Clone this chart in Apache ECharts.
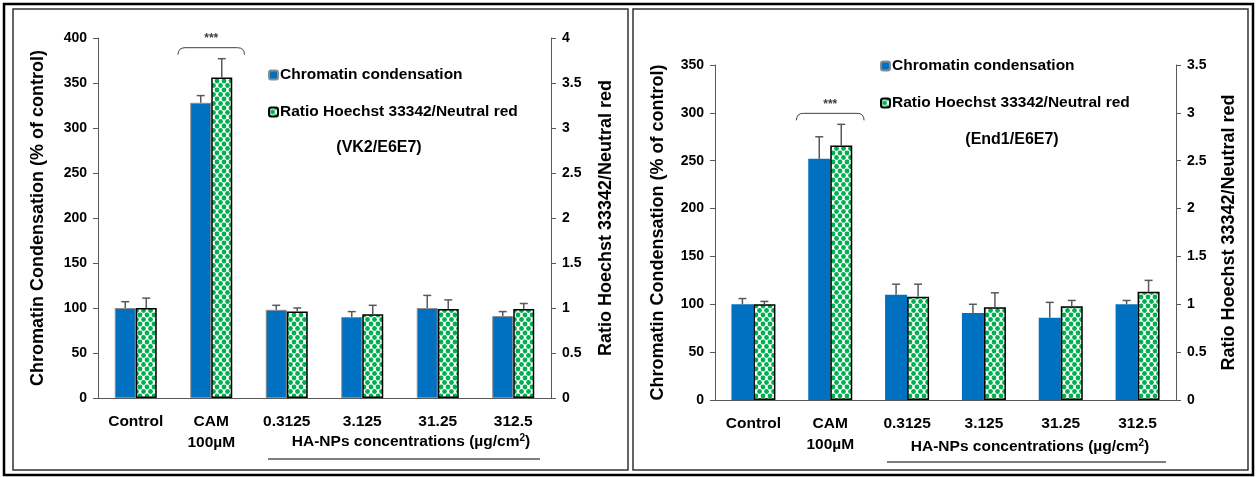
<!DOCTYPE html>
<html>
<head>
<meta charset="utf-8">
<script src="https://cdn.jsdelivr.net/npm/echarts@6/dist/echarts.min.js"></script>
<style>
  html, body { margin: 0; padding: 0; background: #fff; }
  #chart { width: 1257px; height: 477px; }
</style>
</head>
<body>
<div id="chart"></div>
<script>
// Treatment groups on the x axis
const categories = ['Control', 'CAM\n100µM', '0.3125', '3.125', '31.25', '312.5'];

// VK2/E6E7 cells
const vk2Chromatin = [100, 328, 98, 90, 100, 91];          // % of control
const vk2ChromatinErr = [7, 8, 5, 6, 14, 5];
const vk2Ratio = [1.00, 3.56, 0.96, 0.93, 0.99, 0.99];      // Hoechst 33342 / Neutral red
const vk2RatioErr = [0.11, 0.21, 0.04, 0.10, 0.10, 0.06];

// End1/E6E7 cells
const end1Chromatin = [100, 252, 110, 91, 86, 100];
const end1ChromatinErr = [6, 23, 11, 9, 16, 4];
const end1Ratio = [1.00, 2.66, 1.08, 0.97, 0.98, 1.13];
const end1RatioErr = [0.03, 0.22, 0.13, 0.15, 0.06, 0.12];

// Axis ranges
const vk2LeftMax = 400, vk2RightMax = 4;
const end1LeftMax = 350, end1RightMax = 3.5;

const SERIES_A = 'Chromatin condensation';
const SERIES_B = 'Ratio Hoechst 33342/Neutral red';
const SIGNIF = '***';

const SANS = "'Liberation Sans', Arial, sans-serif";
const BLUE = '#0070C0';
const GREEN = '#00B050';
const AXIS_GREY = '#595959';

// Green dot fill for the ratio bars
function makeDotPattern() {
  const c = document.createElement('canvas');
  c.width = 7; c.height = 9;
  const g = c.getContext('2d');
  g.fillStyle = '#ffffff';
  g.fillRect(0, 0, 7, 9);
  g.fillStyle = GREEN;
  const pts = [[0, 0], [7, 0], [0, 9], [7, 9], [3.5, 4.5]];
  pts.forEach(([x, y]) => {
    g.beginPath();
    g.arc(x, y, 2.4, 0, Math.PI * 2);
    g.fill();
  });
  return { image: c, repeat: 'repeat' };
}
const dotPattern = makeDotPattern();

function errorSeries(xi, yi, values, errs, side, barW) {
  return {
    type: 'custom',
    xAxisIndex: xi,
    yAxisIndex: yi,
    silent: true,
    z: 5,
    data: values.map((v, i) => [i, v, v + errs[i]]),
    encode: { x: 0, y: [1, 2] },
    renderItem(params, api) {
      const base = api.coord([api.value(0), api.value(1)]);
      const top = api.coord([api.value(0), api.value(2)]);
      const x = base[0] + side * barW / 2;
      const st = { stroke: AXIS_GREY, lineWidth: 1.5 };
      return {
        type: 'group',
        children: [
          { type: 'line', shape: { x1: x, y1: base[1], x2: x, y2: top[1] }, style: st },
          { type: 'line', shape: { x1: x - 4, y1: top[1], x2: x + 4, y2: top[1] }, style: st }
        ]
      };
    }
  };
}

// Significance bracket over the CAM pair; height follows the taller error bar
function bracketSeries(xi, yi, idx, chromTop, ratioTop, scale, catW) {
  return {
    type: 'custom',
    xAxisIndex: xi,
    yAxisIndex: yi,
    silent: true,
    z: 6,
    data: [[idx, Math.max(chromTop, ratioTop * scale)]],
    encode: { x: 0, y: 1 },
    renderItem(params, api) {
      const p = api.coord([api.value(0), api.value(1)]);
      const half = catW * 0.44;
      const y = p[1] - 11;
      const x0 = p[0] - half, x1 = p[0] + half;
      return {
        type: 'group',
        children: [
          {
            type: 'path',
            shape: {
              pathData: `M${x0},${y + 7} Q${x0},${y} ${x0 + 7},${y} L${x1 - 7},${y} Q${x1},${y} ${x1},${y + 7}`
            },
            style: { stroke: '#404040', lineWidth: 1, fill: null }
          },
          {
            type: 'text',
            style: {
              text: SIGNIF, x: p[0], y: y - 3,
              align: 'center', verticalAlign: 'bottom',
              font: 'bold 12px ' + SANS, fill: '#404040'
            }
          }
        ]
      };
    }
  };
}

function valueAxis(gi, max, interval, name, gap, position) {
  return {
    type: 'value',
    gridIndex: gi,
    position: position,
    min: 0,
    max: max,
    interval: interval,
    name: name,
    nameLocation: 'middle',
    nameRotate: 90,
    nameGap: gap,
    nameTextStyle: { fontFamily: SANS, fontWeight: 'bold', fontSize: 18, color: '#000' },
    axisLine: { show: true, lineStyle: { color: AXIS_GREY, width: 1 } },
    axisTick: { show: true, inside: false, length: 5, lineStyle: { color: AXIS_GREY } },
    splitLine: { show: false },
    axisLabel: { fontFamily: SANS, fontWeight: 'bold', fontSize: 14, color: '#000', margin: 11 }
  };
}

function catAxis(gi) {
  return {
    type: 'category',
    gridIndex: gi,
    data: categories,
    axisLine: { lineStyle: { color: AXIS_GREY, width: 1 } },
    axisTick: { show: false },
    axisLabel: {
      fontFamily: SANS, fontWeight: 'bold', fontSize: 15.5, color: '#000',
      lineHeight: 21, margin: 13, interval: 0
    }
  };
}

function legend(left, top) {
  return {
    orient: 'vertical',
    left: left,
    top: top,
    itemWidth: 9,
    itemHeight: 9,
    itemGap: 17,
    selectedMode: false,
    textStyle: { fontFamily: SANS, fontWeight: 'bold', fontSize: 15.5, lineHeight: 20, color: '#000', padding: [0, 0, 0, -3] },
    data: [SERIES_A, SERIES_B]
  };
}

const grids = [
  { left: 98, top: 38, width: 453, height: 360 },
  { left: 715, top: 65, width: 461, height: 335 }
];
const barW = [21, 22];

const captionStyle = (text) => ({
  text: text,
  font: 'bold 15.5px ' + SANS, fill: '#000', align: 'center', verticalAlign: 'middle',
  rich: { sup: { font: 'bold 10px ' + SANS, fill: '#000', verticalAlign: 'top', padding: [0, 0, 8, 0] } }
});
const CAPTION = 'HA-NPs concentrations (µg/cm{sup|2})';

const option = {
  animation: false,
  backgroundColor: '#fff',
  grid: grids,
  legend: [legend(263, 60), legend(875, 51)],
  xAxis: [catAxis(0), catAxis(1)],
  yAxis: [
    valueAxis(0, vk2LeftMax, 50, 'Chromatin Condensation (% of control)', 51, 'left'),
    valueAxis(0, vk2RightMax, 0.5, 'Ratio Hoechst 33342/Neutral red', 46, 'right'),
    valueAxis(1, end1LeftMax, 50, 'Chromatin Condensation (% of control)', 48, 'left'),
    valueAxis(1, end1RightMax, 0.5, 'Ratio Hoechst 33342/Neutral red', 44, 'right')
  ],
  series: [
    {
      name: SERIES_A, type: 'bar', xAxisIndex: 0, yAxisIndex: 0,
      data: vk2Chromatin, barWidth: barW[0], barGap: '0%',
      itemStyle: { color: BLUE, borderColor: '#8c8c8c', borderWidth: 1 }
    },
    {
      name: SERIES_B, type: 'bar', xAxisIndex: 0, yAxisIndex: 1,
      data: vk2Ratio, barWidth: barW[0], barGap: '0%',
      itemStyle: { color: dotPattern, borderColor: '#000', borderWidth: 1.5 }
    },
    {
      name: SERIES_A, type: 'bar', xAxisIndex: 1, yAxisIndex: 2,
      data: end1Chromatin, barWidth: barW[1], barGap: '0%',
      itemStyle: { color: BLUE }
    },
    {
      name: SERIES_B, type: 'bar', xAxisIndex: 1, yAxisIndex: 3,
      data: end1Ratio, barWidth: barW[1], barGap: '0%',
      itemStyle: { color: dotPattern, borderColor: '#000', borderWidth: 1.5 }
    },
    errorSeries(0, 0, vk2Chromatin, vk2ChromatinErr, -1, barW[0]),
    errorSeries(0, 1, vk2Ratio, vk2RatioErr, 1, barW[0]),
    errorSeries(1, 2, end1Chromatin, end1ChromatinErr, -1, barW[1]),
    errorSeries(1, 3, end1Ratio, end1RatioErr, 1, barW[1]),
    bracketSeries(0, 0, 1,
      vk2Chromatin[1] + vk2ChromatinErr[1], vk2Ratio[1] + vk2RatioErr[1],
      vk2LeftMax / vk2RightMax, grids[0].width / categories.length),
    bracketSeries(1, 2, 1,
      end1Chromatin[1] + end1ChromatinErr[1], end1Ratio[1] + end1RatioErr[1],
      end1LeftMax / end1RightMax, grids[1].width / categories.length)
  ],
  graphic: [
    // outer frame and the two panel frames
    { type: 'rect', shape: { x: 4, y: 4, width: 1249, height: 471 }, style: { fill: null, stroke: '#000', lineWidth: 2.5 }, silent: true },
    { type: 'rect', shape: { x: 13, y: 9, width: 615, height: 461 }, style: { fill: null, stroke: '#333', lineWidth: 1.5 }, silent: true },
    { type: 'rect', shape: { x: 633, y: 9, width: 615, height: 461 }, style: { fill: null, stroke: '#333', lineWidth: 1.5 }, silent: true },
    // cell line labels
    { type: 'text', x: 379, y: 148, style: { text: '(VK2/E6E7)', font: 'bold 16px ' + SANS, fill: '#000', align: 'center', verticalAlign: 'middle' } },
    { type: 'text', x: 1012, y: 140, style: { text: '(End1/E6E7)', font: 'bold 16px ' + SANS, fill: '#000', align: 'center', verticalAlign: 'middle' } },
    // concentration group captions with underline
    { type: 'text', x: 411, y: 442, style: captionStyle(CAPTION) },
    { type: 'line', shape: { x1: 268, y1: 459, x2: 540, y2: 459 }, style: { stroke: '#000', lineWidth: 1 } },
    { type: 'text', x: 1030, y: 447, style: captionStyle(CAPTION) },
    { type: 'line', shape: { x1: 887, y1: 462, x2: 1166, y2: 462 }, style: { stroke: '#000', lineWidth: 1 } }
  ]
};

const chart = echarts.init(document.getElementById('chart'), null, { renderer: 'canvas' });
chart.setOption(option);
</script>
</body>
</html>
